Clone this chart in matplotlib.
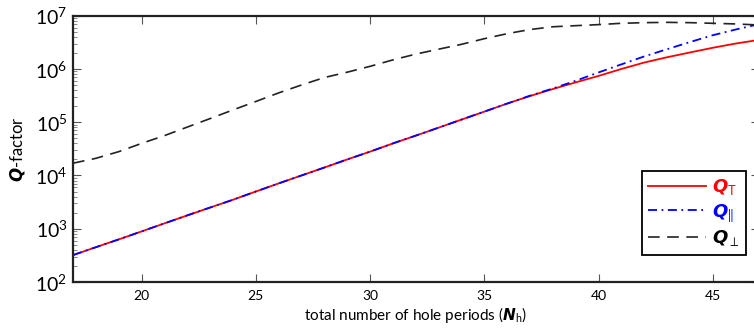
import numpy as np
import matplotlib
matplotlib.use('Agg')
import matplotlib.pyplot as plt
from matplotlib.ticker import FixedLocator, LogLocator, FuncFormatter, NullFormatter

plt.rcParams['font.family'] = 'Lato'
plt.rcParams['mathtext.fontset'] = 'custom'
plt.rcParams['mathtext.rm'] = 'Lato'
plt.rcParams['mathtext.it'] = 'DejaVu Sans:italic:bold'
plt.rcParams['mathtext.bf'] = 'Lato:bold'

# total number of hole periods
N_h = [17, 18, 19, 20, 21, 22, 23, 24, 25, 26, 27, 28, 29, 30, 31, 32,
       33, 34, 35, 36, 37, 38, 39, 40, 41, 42, 43, 44, 45, 46, 47]

Q_T = [3.2e2, 4.5e2, 6.3e2, 8.9e2, 1.26e3, 1.78e3, 2.5e3, 3.5e3, 5.0e3, 7.1e3,
       1.0e4, 1.41e4, 2.0e4, 2.8e4, 4.0e4, 5.6e4, 7.9e4, 1.12e5, 1.58e5, 2.24e5,
       3.1e5, 4.2e5, 5.6e5, 7.4e5, 1.0e6, 1.32e6, 1.66e6, 2.04e6, 2.5e6, 3.0e6, 3.5e6]

Q_par = [3.2e2, 4.5e2, 6.3e2, 8.9e2, 1.26e3, 1.78e3, 2.5e3, 3.5e3, 5.0e3, 7.1e3,
         1.0e4, 1.41e4, 2.0e4, 2.8e4, 4.0e4, 5.6e4, 7.9e4, 1.12e5, 1.58e5, 2.24e5,
         3.15e5, 4.3e5, 6.0e5, 8.6e5, 1.22e6, 1.72e6, 2.35e6, 3.2e6, 4.3e6, 5.5e6, 6.9e6]

Q_perp = [1.7e4, 2.1e4, 2.8e4, 4.0e4, 5.6e4, 8.1e4, 1.17e5, 1.7e5, 2.45e5, 3.55e5,
          5.0e5, 6.9e5, 8.7e5, 1.12e6, 1.48e6, 1.9e6, 2.35e6, 2.9e6, 3.7e6, 4.6e6,
          5.5e6, 6.2e6, 6.5e6, 6.8e6, 7.2e6, 7.4e6, 7.5e6, 7.4e6, 7.2e6, 7.0e6, 6.7e6]

xticks = [20, 25, 30, 35, 40, 45]

fig = plt.figure(figsize=(7.54, 3.30), dpi=100)
ax = fig.add_axes([73/754, 1-282/330, 685.5/754, (282-15.7)/330])

ax.plot(N_h, Q_T, color='red', lw=1.3, label=r'$\mathit{Q}_{\mathrm{T}}$')
ax.plot(N_h, Q_par, color='blue', lw=1.3, dashes=(5, 2.5, 1, 2.5),
        label=r'$\mathit{Q}_{\|}$')
ax.plot(N_h, Q_perp, color='#222222', lw=1.2, dashes=(7, 4.5),
        label=r'$\mathit{Q}_{\perp}$')

ax.set_yscale('log')
ax.set_xlim(17, 47)
ax.set_ylim(1e2, 1e7)
ax.xaxis.set_major_locator(FixedLocator(xticks))
ax.yaxis.set_major_locator(LogLocator(base=10, numticks=10))
ax.yaxis.set_minor_locator(LogLocator(base=10, subs=np.arange(2, 10), numticks=20))
ax.yaxis.set_minor_formatter(NullFormatter())
ax.yaxis.set_major_formatter(FuncFormatter(lambda v, p: r'$10^{%d}$' % round(np.log10(v))))

ax.tick_params(which='both', direction='in', top=True, right=True)
ax.tick_params(which='major', length=6, width=0.8, color='#555555')
ax.tick_params(which='minor', length=3, width=0.6, color='#777777')
ax.tick_params(axis='x', labelsize=10, pad=6)
ax.tick_params(axis='y', labelsize=14, pad=4)
for s in ax.spines.values():
    s.set_linewidth(1.6)
    s.set_color('#222222')

ax.set_xlabel(r'total number of hole periods ($\mathit{N}_{\mathrm{h}}$)', fontsize=11, labelpad=2)
ax.set_ylabel(r'$\mathit{Q}$-factor', fontsize=12, labelpad=6)

leg = ax.legend(loc='upper left', bbox_to_anchor=((633-73)/685.5, (282-162)/266.3),
                fontsize=13, handlelength=3.2, handletextpad=0.3, labelspacing=0.25,
                borderpad=0.35, fancybox=False, framealpha=1, edgecolor='black')
leg.get_frame().set_linewidth(1.3)
for t, c in zip(leg.get_texts(), ['red', 'blue', 'black']):
    t.set_color(c)

fig.savefig('out.png', dpi=100)
